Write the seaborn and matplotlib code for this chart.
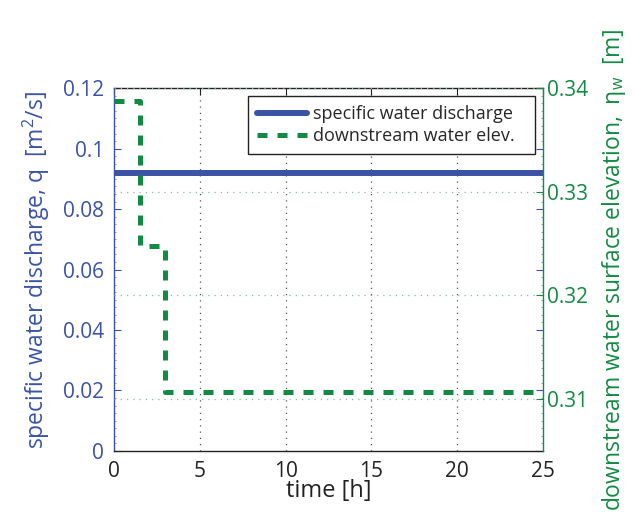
import numpy as np
import pandas as pd
import matplotlib
matplotlib.use("Agg")
import matplotlib.pyplot as plt
import seaborn as sns
from matplotlib.ticker import MultipleLocator

# -------------------------------
# Data
# -------------------------------
time_q = [0, 25]
discharge_q = [0.092, 0.092]

time_eta = [0, 1.5, 1.5, 3.0, 3.0, 25]
elev_eta = [0.3388, 0.3388, 0.3248, 0.3248, 0.3107, 0.3107]

x_ticks = [0, 5, 10, 15, 20, 25]
q_ticks = [0, 0.02, 0.04, 0.06, 0.08, 0.1, 0.12]
q_tick_labels = ["0", "0.02", "0.04", "0.06", "0.08", "0.1", "0.12"]
eta_ticks = [0.31, 0.32, 0.33, 0.34]
eta_tick_labels = ["0.31", "0.32", "0.33", "0.34"]

blue = "#3A53A4"
green = "#138A43"

df_q = pd.DataFrame({"t": time_q, "q": discharge_q})
df_eta = pd.DataFrame({"t": time_eta, "eta": elev_eta})

# -------------------------------
# Plot
# -------------------------------
sns.set_style("white")
plt.rcParams['font.family'] = ['Open Sans', 'DejaVu Sans']
plt.rcParams['font.size'] = 15
plt.rcParams['mathtext.default'] = 'regular'

fig = plt.figure(figsize=(6.33, 5.13), dpi=100)
ax1 = fig.add_axes([0.180, 0.121, 0.678, 0.707])
ax2 = ax1.twinx()

# vertical grid (x) and horizontal grid from right axis
for xt in x_ticks[1:-1]:
    ax1.axvline(xt, color="#555555", lw=0.9, ls=(0, (1, 4)), zorder=0)
for et in eta_ticks:
    ax2.axhline(et, color="#7fbf9a", lw=0.9, ls=(0, (1, 4)), zorder=0)

sns.lineplot(data=df_q, x="t", y="q", ax=ax1, color=blue, lw=4.3,
             label="specific water discharge", legend=False, zorder=3)
sns.lineplot(data=df_eta, x="t", y="eta", ax=ax2, color=green, lw=3.6,
             sort=False, estimator=None, legend=False,
             label="downstream water elev.", zorder=3)
ax2.lines[-1].set_dashes([2, 2])

ax1.set_xlim(0, 25)
ax1.set_ylim(0, 0.12)
ax2.set_ylim(0.305, 0.34)

ax1.set_xticks(x_ticks)
ax1.set_xticklabels([str(v) for v in x_ticks])
ax1.set_yticks(q_ticks)
ax1.set_yticklabels(q_tick_labels)
ax2.set_yticks(eta_ticks)
ax2.set_yticklabels(eta_tick_labels)
ax1.yaxis.set_minor_locator(MultipleLocator(0.0025))

ax1.tick_params(axis="x", direction="in", top=True, length=5, width=0.8,
                colors="#222222", labelcolor="#222222", pad=7)
ax1.tick_params(axis="y", which="major", direction="in", right=True, length=5,
                width=0.8, color=blue, labelcolor=blue, pad=7)
ax1.tick_params(axis="y", which="minor", direction="in", left=True, right=True,
                length=1.5, width=0.6, color="#8890b0")
ax2.tick_params(axis="y", direction="in", length=5, width=0.8, color=green,
                labelcolor=green, pad=3)

for sp in ["top", "bottom"]:
    ax1.spines[sp].set_color("#222222")
    ax2.spines[sp].set_visible(False)
ax1.spines["left"].set_color(blue)
ax1.spines["right"].set_visible(False)
ax2.spines["left"].set_visible(False)
ax2.spines["right"].set_color(green)
for sp in ax1.spines.values():
    sp.set_linewidth(1.0)
ax2.spines["right"].set_linewidth(1.0)

ax1.set_xlabel("time [h]", color="#222222", fontsize=17, labelpad=-2)
ax1.set_ylabel("specific water discharge, q  [m$^{2}$/s]", color=blue,
               fontsize=16.5, labelpad=8)
ax2.set_ylabel("downstream water surface elevation,  η$_{w}$  [m]", color=green,
               fontsize=16.5, labelpad=8)

h1, l1 = ax1.get_legend_handles_labels()
h2, l2 = ax2.get_legend_handles_labels()
leg = ax2.legend(h1 + h2, l1 + l2, loc="upper left", fontsize=13,
                 bbox_to_anchor=(0.312, 0.826, 0.669, 0.152), mode="expand",
                 frameon=True, fancybox=False,
                 edgecolor="#222222", handlelength=2.8, borderpad=0.5,
                 labelspacing=0.22, handletextpad=0.3, borderaxespad=0)
leg.get_frame().set_linewidth(1.0)
leg.get_frame().set_alpha(1)

fig.savefig("out.png", dpi=100)
